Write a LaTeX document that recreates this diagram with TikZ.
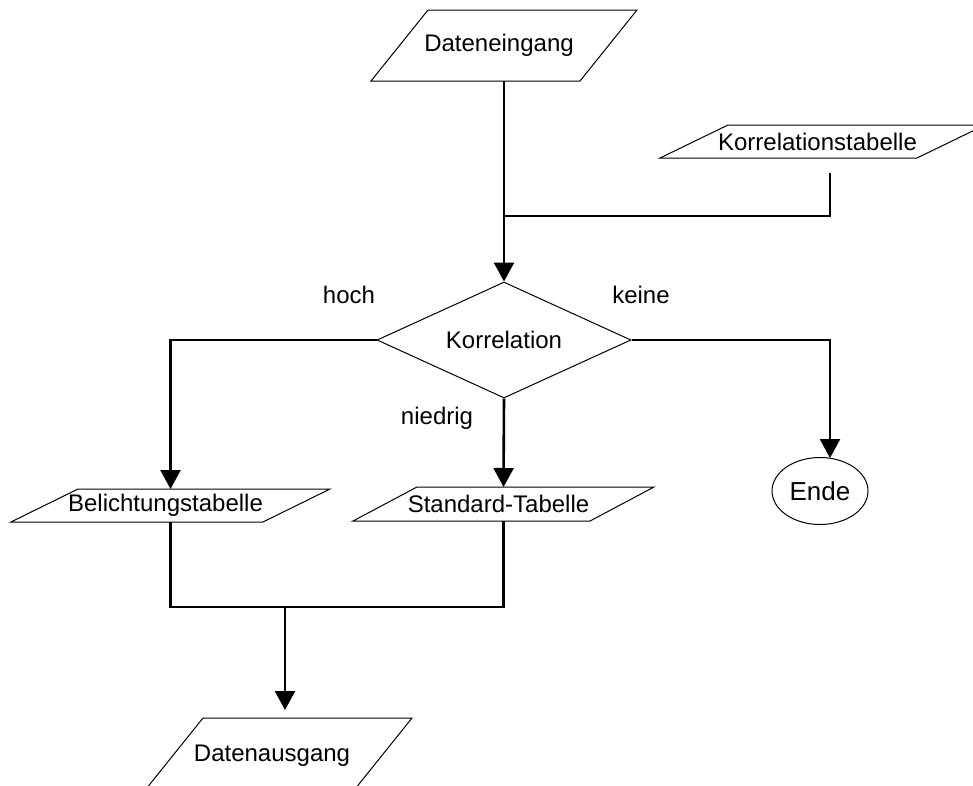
\documentclass[tikz,border=0pt]{standalone}
\usepackage{fontspec}
\setmainfont{Liberation Sans}
\usetikzlibrary{shapes.geometric,arrows.meta}

\tikzset{
  outline/.style={draw=black, line width=1pt},
  flow/.style={draw=black, line width=2.6pt},
  flowarrow/.style={flow, -{Triangle[length=19pt,width=20pt]}},
  txt/.style={font=\fontsize{24}{28}\selectfont},
  % body of a slanted box; the text sits slightly left of the body centre
  iobody/.style={txt, rectangle, inner sep=0pt, outer sep=0pt,
                 execute at begin node={\kern-10pt}},
  lbl/.style={txt, inner sep=0pt},
}

% slanted input/output box drawn around a rectangular body node
\newcommand\slantbox[2]{%
  \draw[outline] ([xshift=-#2]#1.south west) -- ([xshift=-#2]#1.south east)
    -- ([xshift=#2]#1.north east) -- ([xshift=#2]#1.north west) -- cycle;}

\begin{document}
\begin{tikzpicture}[x=1pt, y=-1pt]
  \useasboundingbox (0,0) rectangle (973,785);
  \fill[white] (0,0) rectangle (973,785);
  \clip (0,0) rectangle (973,785);

  % boxes
  \node[iobody, minimum width=209pt, minimum height=71pt] (din) at (504,45.5) {Dateneingang};
  \slantbox{din}{28.5pt}
  \node[iobody, minimum width=257pt, minimum height=33pt] (ktab) at (822.5,141.5) {Korrelationstabelle};
  \slantbox{ktab}{34pt}
  \node[txt, diamond, draw, line width=1pt, aspect=2.19, inner sep=0pt,
        minimum width=254pt, minimum height=116pt] (corr) at (504,340) {Korrelation};
  \node[iobody, minimum width=252pt, minimum height=33pt] (btab) at (170.5,505.5) {Belichtungstabelle};
  \slantbox{btab}{33.5pt}
  \node[iobody, minimum width=237pt, minimum height=34pt] (stab) at (503.5,504) {Standard-Tabelle};
  \slantbox{stab}{32pt}
  \node[ellipse, draw, line width=1pt, inner sep=0pt, font=\fontsize{26}{30}\selectfont,
        minimum width=96pt, minimum height=67pt] (ende) at (820,491) {Ende};
  \node[iobody, minimum width=209pt, minimum height=76pt] (dout) at (277,756) {Datenausgang};
  \slantbox{dout}{30.5pt}

  % branch labels
  \node[lbl] (lhoch) at (349,295) {hoch};
  \node[lbl] (lkeine) at (641,295) {keine};
  \node[lbl] (lniedrig) at (437,418) {niedrig};

  % connector end points
  \coordinate (kstart) at (830,173);
  \coordinate (kjoin) at (504,216);
  \coordinate (endtop) at (830,458);
  \coordinate (merge) at (285,607);
  \coordinate (douttop) at (285,710);

  % connectors
  \draw[flowarrow] (din.south) -- (corr.north);
  \draw[flow] (kstart) |- (kjoin);
  \draw[flowarrow] (corr.west) -| (btab.north);
  \draw[flowarrow] (corr.south) -- (stab.north);
  \draw[flowarrow] (corr.east) -| (endtop);
  \draw[flow] (btab.south) |- (merge);
  \draw[flow] (stab.south) |- (merge);
  \draw[flowarrow] (merge) -- (douttop);
\end{tikzpicture}
\end{document}
